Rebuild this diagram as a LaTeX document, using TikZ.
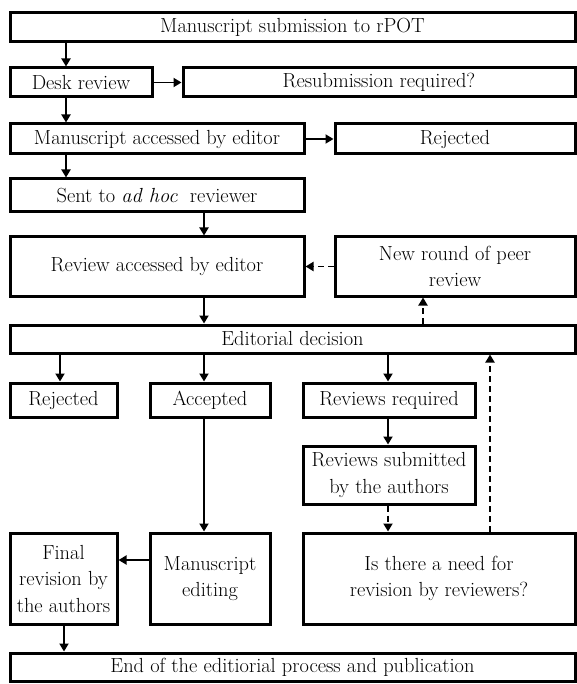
\documentclass[tikz,border=0pt]{standalone}
\usepackage{tikz}
\usetikzlibrary{arrows.meta, positioning, calc}

\begin{document}
\begin{tikzpicture}[x=1pt, y=-1pt,
        box/.style={draw, line width=3pt, inner sep=0pt, align=center,
            font=\fontsize{20.4}{26.5}\selectfont},
        arr/.style={-{Triangle[length=8pt, width=9pt]}, line width=1.8pt},
        darr/.style={arr, dash pattern=on 6pt off 4pt}]
        \useasboundingbox (0, 0) rectangle (576, 684);
        % top part
        \node[box, minimum width=565, minimum height=29] (sub) at (292.5, 27.5)
            {Manuscript submission to rPOT};
        \node[box, minimum width=142, minimum height=29] (desk) at (81, 82.5)
            {Desk review};
        \node[box, minimum width=392, minimum height=29] (resub) at (379, 82.5)
            {Resubmission required?};
        \node[box, minimum width=294, minimum height=30] (mae) at (157, 139)
            {Manuscript accessed by editor};
        \node[box, minimum width=240, minimum height=30] (rejA) at (455, 139)
            {Rejected};
        \node[box, minimum width=294, minimum height=33] (sent) at (157, 195.5)
            {Sent to \textit{ad hoc}\ \ reviewer};
        \node[box, minimum width=294, minimum height=59] (rae) at (157, 266.5)
            {Review accessed by editor};
        \node[box, minimum width=240, minimum height=59] (newr) at (455, 266.5)
            {New round of peer\\review};
        \node[box, minimum width=565, minimum height=28] (edd) at (292.5, 339)
            {Editorial decision};
        % decision branches
        \node[box, minimum width=107, minimum height=34] (rejB) at (63.5, 400)
            {Rejected};
        \node[box, minimum width=120, minimum height=34] (acc) at (210, 400)
            {Accepted};
        \node[box, minimum width=172, minimum height=34] (rreq) at (389, 400)
            {Reviews required};
        \node[box, minimum width=172, minimum height=58] (rsub) at (389, 475)
            {Reviews submitted\\by the authors};
        \node[box, minimum width=107, minimum height=91] (final) at (63.5, 578.5)
            {Final\\revision by\\the authors};
        \node[box, minimum width=120, minimum height=91] (med) at (210, 578.5)
            {Manuscript\\editing};
        \node[box, minimum width=272, minimum height=91] (need) at (439, 578.5)
            {Is there a need for\\revision by reviewers?};
        \node[box, minimum width=565, minimum height=28] (end) at (292.5, 667)
            {End of the editiorial process and publication};
        % columns of the arrows
        \coordinate (colA) at (66, 0);
        \coordinate (colB) at (204, 0);
        \coordinate (colC) at (388, 0);
        \coordinate (colD) at (423, 0);
        \coordinate (colE) at (490, 0);
        \coordinate (colF) at (60, 0);
        \coordinate (colG) at (64, 0);
        \coordinate (rowM) at (0, 560);
        \draw[arr] (colA |- sub.south) -- (colA |- desk.north);
        \draw[arr] (colA |- desk.south) -- (colA |- mae.north);
        \draw[arr] (colA |- mae.south) -- (colA |- sent.north);
        \draw[arr] (desk.east) -- (resub.west);
        \draw[arr] (mae.east) -- (rejA.west);
        \draw[arr] (colB |- sent.south) -- (colB |- rae.north);
        \draw[darr] (newr.west) -- (rae.east);
        \draw[arr] (colB |- rae.south) -- (colB |- edd.north);
        \draw[darr] (colD |- edd.north) -- (colD |- newr.south);
        \draw[arr] (colF |- edd.south) -- (colF |- rejB.north);
        \draw[arr] (colB |- edd.south) -- (colB |- acc.north);
        \draw[arr] (colC |- edd.south) -- (colC |- rreq.north);
        \draw[arr] (colC |- rreq.south) -- (colC |- rsub.north);
        \draw[arr] (colB |- acc.south) -- (colB |- med.north);
        \draw[darr] (colC |- rsub.south) -- (colC |- need.north);
        \draw[darr] (colE |- need.north) -- (colE |- edd.south);
        \draw[arr] (rowM -| med.west) -- (rowM -| final.east);
        \draw[arr] (colG |- final.south) -- (colG |- end.north);
    \end{tikzpicture}
\end{document}
